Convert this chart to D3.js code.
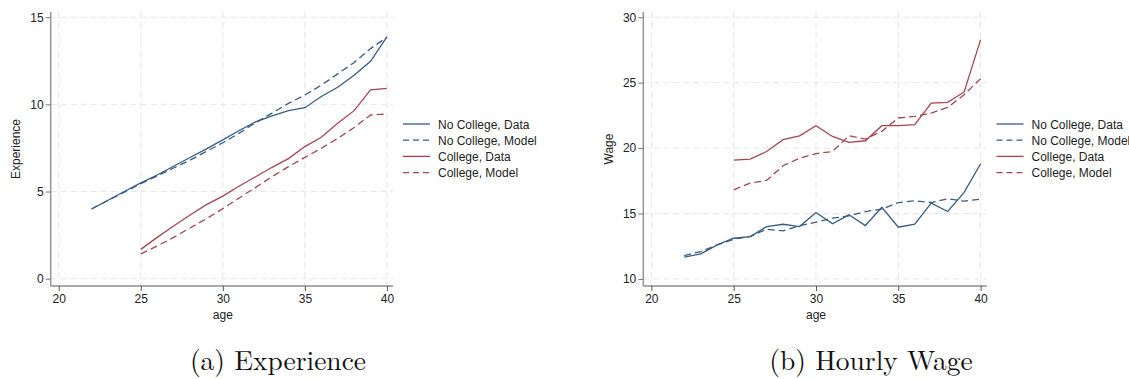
<!DOCTYPE html>
<html>
<head>
<meta charset="utf-8">
<script src="https://cdn.jsdelivr.net/npm/d3@7"></script>
<style>
  body { margin: 0; background: #fff; }
  .axis text { font-family: "Liberation Sans", Arial, sans-serif; font-size: 12px; fill: #222; }
  .grid line { stroke: #e6e6e6; stroke-dasharray: 6,4; }
  .caption { font-family: "Latin Modern Roman", "DejaVu Serif", "Liberation Serif", serif; font-size: 27.5px; fill: #111; }
</style>
</head>
<body>
<svg id="chart" width="1129" height="379"></svg>
<script>

// Ages shared by all series
var ages = d3.range(22, 41);
var agesCollege = d3.range(25, 41);

// Panel (a) Experience
var expNoColData  = [4.0, 4.5, 5.0, 5.5, 5.95, 6.45, 6.95, 7.45, 7.96, 8.5, 9.0, 9.34, 9.64, 9.81, 10.45, 10.98, 11.67, 12.47, 13.87];
var expNoColModel = [4.0, 4.48, 4.97, 5.45, 5.9, 6.35, 6.8, 7.3, 7.8, 8.35, 8.95, 9.5, 10.06, 10.54, 11.1, 11.75, 12.4, 13.2, 13.85];
var expColData    = [1.68, 2.37, 3.02, 3.65, 4.25, 4.74, 5.32, 5.85, 6.39, 6.89, 7.58, 8.11, 8.92, 9.64, 10.83, 10.92];
var expColModel   = [1.42, 1.87, 2.37, 2.91, 3.44, 4.02, 4.63, 5.24, 5.85, 6.43, 6.96, 7.48, 8.05, 8.67, 9.39, 9.45];

// Panel (b) Hourly wage
var wageNoColData  = [11.66, 11.91, 12.6, 13.11, 13.24, 14.0, 14.18, 14.0, 15.08, 14.21, 14.9, 14.08, 15.48, 13.95, 14.18, 15.79, 15.15, 16.61, 18.8];
var wageNoColModel = [11.79, 12.09, 12.6, 13.04, 13.24, 13.8, 13.67, 14.06, 14.34, 14.64, 14.82, 15.15, 15.33, 15.84, 15.97, 15.84, 16.12, 15.94, 16.1];
var wageColData    = [19.08, 19.16, 19.74, 20.64, 20.94, 21.71, 20.89, 20.43, 20.56, 21.71, 21.71, 21.79, 23.44, 23.49, 24.29, 28.29];
var wageColModel   = [16.81, 17.32, 17.53, 18.65, 19.23, 19.57, 19.74, 20.94, 20.69, 21.28, 22.3, 22.42, 22.68, 23.11, 24.08, 25.31];

var xTicks = [20, 25, 30, 35, 40];
var expTicks = [0, 5, 10, 15];
var wageTicks = [10, 15, 20, 25, 30];

var legendLabels = ["No College, Data", "No College, Model", "College, Data", "College, Model"];
var blue = "#365d84", red = "#a3474f";

var svg = d3.select("#chart");

/*
 * Draw one panel
 */
function drawPanel(cfg) {
    var g = svg.append("g");

    var x = d3.scaleLinear().domain([19.51, 40.37]).range([cfg.left, cfg.right]);
    var y = d3.scaleLinear().domain(cfg.yDomain).range([286, 12]);

    // gridlines
    var grid = g.append("g").attr("class", "grid");
    grid.selectAll(".gx").data(xTicks).enter().append("line")
        .attr("x1", function(d) { return x(d); }).attr("x2", function(d) { return x(d); })
        .attr("y1", 12).attr("y2", 286);
    grid.selectAll(".gy").data(cfg.yTicks).enter().append("line")
        .attr("x1", cfg.left).attr("x2", cfg.right)
        .attr("y1", function(d) { return y(d); }).attr("y2", function(d) { return y(d); });

    // axes
    var xAxis = g.append("g").attr("class", "axis")
        .attr("transform", "translate(0,286)")
        .call(d3.axisBottom(x).tickValues(xTicks).tickSize(5).tickPadding(3));
    xAxis.select(".domain").attr("stroke", "#555").attr("stroke-width", 1.2).attr("d", "M" + cfg.left + ",0H" + cfg.right);
    xAxis.selectAll(".tick line").attr("stroke", "#555");

    var yAxis = g.append("g").attr("class", "axis")
        .attr("transform", "translate(" + cfg.left + ",0)")
        .call(d3.axisLeft(y).tickValues(cfg.yTicks).tickSize(5).tickPadding(2));
    yAxis.select(".domain").attr("stroke", "#999").attr("stroke-width", 1.6).attr("d", "M0,12V286");
    yAxis.selectAll(".tick line").attr("stroke", "#777");

    // axis titles
    g.append("text").attr("class", "axis")
        .attr("x", (x(20) + x(40)) / 2).attr("y", 319)
        .attr("text-anchor", "middle")
        .style("font-family", "Liberation Sans, Arial, sans-serif").style("font-size", "12px").attr("fill", "#222")
        .text("age");
    g.append("text")
        .attr("transform", "translate(" + cfg.yLabelX + "," + (y(cfg.yDomain[0]) + y(cfg.yDomain[1])) / 2 + ") rotate(-90)")
        .attr("text-anchor", "middle")
        .style("font-family", "Liberation Sans, Arial, sans-serif").style("font-size", "12px").attr("fill", "#222")
        .text(cfg.yLabel);

    // lines
    var line = d3.line()
        .x(function(d) { return x(d[0]); })
        .y(function(d) { return y(d[1]); });

    cfg.series.forEach(function(s) {
        g.append("path")
            .datum(d3.zip(s.ages, s.values))
            .attr("fill", "none")
            .attr("stroke", s.color)
            .attr("stroke-width", 1.3)
            .attr("stroke-dasharray", s.dashed ? "7,4" : null)
            .attr("d", line);
    });

    // legend
    var leg = g.append("g").attr("transform", "translate(" + cfg.legendX + ",124)");
    cfg.series.forEach(function(s, i) {
        var row = leg.append("g").attr("transform", "translate(0," + (i * 16.2) + ")");
        row.append("line").attr("x1", 0).attr("x2", 27).attr("y1", 0).attr("y2", 0)
            .attr("stroke", s.color).attr("stroke-width", 1.3)
            .attr("stroke-dasharray", s.dashed ? "6,4" : null);
        row.append("text").attr("x", 35).attr("y", 4.5)
            .style("font-family", "Liberation Sans, Arial, sans-serif").style("font-size", "12px").attr("fill", "#222")
            .text(legendLabels[i]);
    });

    // caption
    svg.append("text").attr("class", "caption")
        .attr("x", cfg.captionX).attr("y", 370)
        .attr("text-anchor", "middle")
        .text(cfg.caption);
}

drawPanel({
    left: 50.7, right: 393,
    yDomain: [-0.42, 15.3], yTicks: expTicks,
    yLabel: "Experience", yLabelX: 20,
    legendX: 403,
    caption: "(a) Experience", captionX: 278,
    series: [
        { ages: ages, values: expNoColData, color: blue, dashed: false },
        { ages: ages, values: expNoColModel, color: blue, dashed: true },
        { ages: agesCollege, values: expColData, color: red, dashed: false },
        { ages: agesCollege, values: expColModel, color: red, dashed: true }
    ]
});

drawPanel({
    left: 643.3, right: 986.7,
    yDomain: [9.46, 30.4], yTicks: wageTicks,
    yLabel: "Wage", yLabelX: 613,
    legendX: 996.5,
    caption: "(b) Hourly Wage", captionX: 871,
    series: [
        { ages: ages, values: wageNoColData, color: blue, dashed: false },
        { ages: ages, values: wageNoColModel, color: blue, dashed: true },
        { ages: agesCollege, values: wageColData, color: red, dashed: false },
        { ages: agesCollege, values: wageColModel, color: red, dashed: true }
    ]
});

</script>
</body>
</html>
